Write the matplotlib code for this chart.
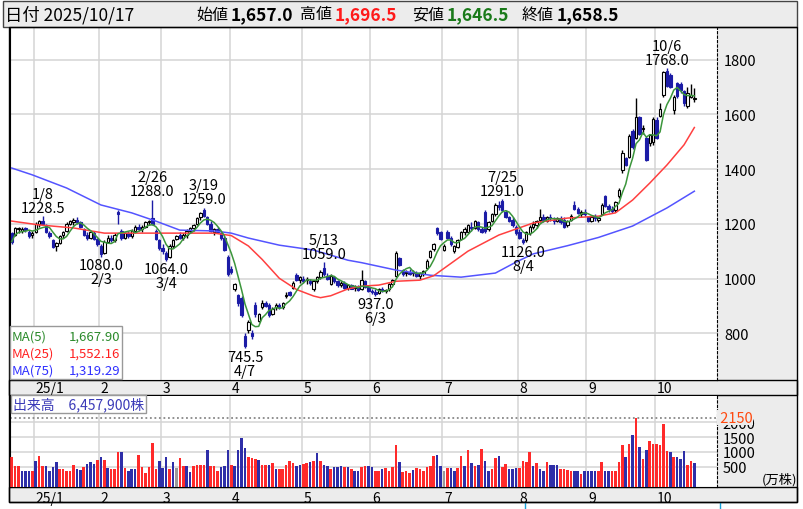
import numpy as np
import pandas as pd
import matplotlib
matplotlib.use("Agg")
import matplotlib.pyplot as plt
from matplotlib.patches import Rectangle
from matplotlib.lines import Line2D

plt.rcParams['font.family'] = ['Noto Sans CJK JP', 'DejaVu Sans']

# --- data -------------------------------------------------------------
holidays = ['2024-12-31', '2025-01-01', '2025-01-02', '2025-01-03', '2025-01-13',
            '2025-02-11', '2025-02-24', '2025-03-20', '2025-04-29', '2025-05-05',
            '2025-05-06', '2025-07-21', '2025-08-11', '2025-09-15', '2025-09-23',
            '2025-10-13']

opens = [1165, 1160, 1180, 1172, 1185, 1170, 1160, 1170, 1200, 1212,
         1195, 1168, 1140, 1118, 1130, 1158, 1175, 1200, 1205, 1215,
         1205, 1180, 1160, 1150, 1168, 1145, 1120, 1095, 1135, 1150,
         1140, 1245, 1175, 1150, 1165, 1155, 1175, 1190, 1180, 1190,
         1205, 1220, 1175, 1140, 1110, 1095, 1080, 1120, 1145, 1160,
         1150, 1160, 1175, 1185, 1200, 1225, 1250, 1225, 1200, 1170,
         1180, 1165, 1150, 1080, 1035, 960, 940, 930, 790, 810,
         800, 905, 845, 895, 910, 905, 870, 895, 905, 895,
         935, 950, 965, 1012, 995, 1000, 995, 990, 960, 990,
         1005, 1040, 1010, 980, 1005, 990, 975, 985, 965, 975,
         965, 970, 960, 990, 968, 955, 950, 948, 960, 955,
         960, 980, 1010, 1075, 1030, 1020, 1025, 1020, 1022, 1010,
         1015, 1040, 1080, 1108, 1185, 1170, 1105, 1170, 1150, 1100,
         1115, 1145, 1170, 1170, 1190, 1185, 1205, 1180, 1245, 1180,
         1210, 1235, 1270, 1285, 1245, 1225, 1215, 1190, 1170, 1140,
         1140, 1165, 1190, 1195, 1215, 1225, 1210, 1225, 1215, 1210,
         1220, 1215, 1195, 1215, 1270, 1255, 1235, 1245, 1225, 1210,
         1225, 1215, 1235, 1300, 1265, 1255, 1250, 1300, 1395, 1440,
         1445, 1540, 1515, 1590, 1545, 1515, 1495, 1500, 1580, 1595,
         1670, 1760, 1745, 1615, 1715, 1712, 1685, 1630, 1665, 1657]
highs = [1170, 1190, 1190, 1188, 1190, 1178, 1172, 1205, 1215, 1228.5,
         1200, 1175, 1145, 1135, 1160, 1175, 1205, 1215, 1220, 1225,
         1210, 1185, 1170, 1175, 1172, 1150, 1125, 1140, 1160, 1160,
         1165, 1250, 1180, 1170, 1175, 1180, 1195, 1200, 1195, 1210,
         1215, 1288, 1180, 1145, 1125, 1100, 1125, 1145, 1160, 1170,
         1165, 1180, 1190, 1200, 1225, 1245, 1259, 1230, 1210, 1185,
         1190, 1170, 1155, 1085, 1045, 985, 945, 935, 800, 850,
         810, 915, 875, 920, 918, 910, 895, 910, 912, 915,
         950, 955, 990, 1020, 1010, 1010, 1005, 1000, 995, 1010,
         1030, 1059, 1020, 1015, 1010, 995, 990, 990, 980, 980,
         975, 978, 1030, 995, 975, 960, 960, 965, 968, 962,
         985, 1000, 1100, 1080, 1035, 1030, 1035, 1030, 1028, 1025,
         1030, 1070, 1105, 1130, 1190, 1175, 1125, 1178, 1155, 1122,
         1145, 1175, 1190, 1200, 1205, 1215, 1212, 1190, 1250, 1210,
         1240, 1275, 1285, 1291, 1250, 1230, 1225, 1195, 1180, 1150,
         1175, 1195, 1210, 1215, 1255, 1235, 1230, 1235, 1225, 1225,
         1228, 1225, 1215, 1235, 1285, 1262, 1250, 1255, 1230, 1230,
         1235, 1225, 1275, 1305, 1272, 1265, 1285, 1330, 1470, 1445,
         1530, 1545, 1660, 1595, 1560, 1520, 1530, 1590, 1590, 1640,
         1760, 1768, 1750, 1670, 1720, 1718, 1690, 1700, 1712, 1696.5]
lows = [1128, 1155, 1165, 1165, 1170, 1150, 1150, 1165, 1190, 1195,
        1165, 1150, 1110, 1100, 1125, 1150, 1170, 1195, 1195, 1200,
        1185, 1155, 1140, 1145, 1140, 1120, 1080, 1090, 1130, 1135,
        1135, 1200, 1140, 1145, 1150, 1150, 1170, 1175, 1170, 1185,
        1195, 1195, 1140, 1105, 1090, 1064, 1075, 1110, 1140, 1145,
        1140, 1150, 1165, 1175, 1195, 1215, 1225, 1195, 1170, 1160,
        1165, 1140, 1100, 1010, 1015, 955, 900, 860, 745.5, 800,
        780, 860, 840, 890, 895, 860, 865, 885, 890, 890,
        930, 935, 960, 990, 985, 985, 980, 975, 955, 985,
        1000, 1010, 995, 975, 985, 970, 970, 960, 958, 960,
        955, 955, 958, 965, 950, 945, 937, 945, 950, 948,
        955, 975, 1005, 1045, 1010, 1010, 1012, 1010, 1005, 1000,
        1010, 1035, 1075, 1100, 1160, 1140, 1100, 1145, 1120, 1095,
        1110, 1140, 1160, 1165, 1175, 1180, 1175, 1165, 1165, 1175,
        1205, 1230, 1250, 1245, 1220, 1205, 1190, 1160, 1145, 1126,
        1135, 1160, 1180, 1185, 1205, 1205, 1205, 1210, 1200, 1205,
        1200, 1185, 1190, 1210, 1250, 1235, 1225, 1230, 1205, 1205,
        1212, 1205, 1232, 1260, 1245, 1240, 1245, 1295, 1385, 1410,
        1440, 1475, 1510, 1525, 1530, 1430, 1485, 1490, 1510, 1590,
        1665, 1700, 1695, 1600, 1660, 1680, 1630, 1625, 1660, 1646.5]
closes = [1135, 1185, 1185, 1182, 1178, 1155, 1168, 1200, 1210, 1198,
          1170, 1155, 1115, 1130, 1155, 1170, 1200, 1210, 1215, 1205,
          1190, 1160, 1150, 1170, 1145, 1125, 1090, 1135, 1150, 1140,
          1160, 1235, 1150, 1165, 1155, 1175, 1190, 1180, 1190, 1205,
          1210, 1200, 1145, 1110, 1100, 1070, 1120, 1140, 1155, 1150,
          1160, 1175, 1185, 1195, 1220, 1240, 1230, 1200, 1175, 1180,
          1170, 1150, 1105, 1015, 1025, 980, 910, 865, 755, 840,
          790, 870, 870, 912, 900, 865, 890, 905, 895, 910,
          940, 940, 985, 995, 1005, 990, 1000, 985, 990, 1005,
          1025, 1015, 1000, 1010, 990, 975, 985, 965, 975, 962,
          970, 958, 995, 970, 955, 950, 945, 960, 955, 958,
          980, 995, 1095, 1050, 1015, 1025, 1018, 1025, 1010, 1020,
          1028, 1065, 1100, 1125, 1165, 1145, 1120, 1150, 1125, 1118,
          1140, 1170, 1180, 1195, 1185, 1210, 1180, 1170, 1175, 1205,
          1235, 1270, 1260, 1250, 1225, 1210, 1195, 1165, 1150, 1135,
          1170, 1190, 1200, 1210, 1225, 1215, 1225, 1220, 1210, 1220,
          1205, 1190, 1210, 1230, 1255, 1240, 1245, 1235, 1210, 1225,
          1220, 1220, 1270, 1265, 1255, 1248, 1280, 1325, 1460, 1415,
          1520, 1480, 1590, 1530, 1550, 1435, 1525, 1585, 1515, 1620,
          1755, 1705, 1700, 1665, 1668, 1690, 1640, 1680, 1671, 1658.5]

# volume in 10k shares, and the day's direction (1 up / -1 down / 0 flat)
volume = [820, 540, 540, 380, 380, 380, 350, 710, 880, 540,
          540, 380, 490, 655, 430, 430, 380, 380, 560, 430,
          400, 490, 600, 655, 600, 740, 820, 740, 450, 430,
          430, 990, 990, 450, 380, 430, 430, 910, 510, 290,
          490, 1290, 430, 710, 450, 820, 430, 680, 450, 790,
          540, 520, 320, 520, 560, 560, 560, 1080, 540, 520,
          380, 510, 540, 1080, 560, 540, 1080, 1460, 1120, 840,
          790, 770, 740, 560, 560, 560, 620, 430, 430, 430,
          560, 710, 620, 540, 560, 600, 620, 680, 710, 955,
          710, 560, 520, 430, 490, 490, 520, 490, 490, 430,
          350, 350, 490, 520, 520, 490, 380, 350, 430, 450,
          380, 510, 1245, 655, 320, 380, 300, 410, 460, 430,
          380, 510, 540, 880, 910, 540, 350, 450, 450, 350,
          450, 880, 540, 1050, 630, 540, 580, 1110, 690, 380,
          430, 800, 880, 510, 600, 430, 430, 460, 460, 690,
          650, 1000, 520, 630, 430, 350, 670, 560, 560, 560,
          430, 430, 410, 380, 350, 350, 280, 380, 380, 380,
          350, 350, 670, 380, 380, 380, 380, 670, 1240, 820,
          1280, 1560, 2150, 1170, 760, 1080, 1380, 1270, 1270, 1230,
          1920, 1040, 990, 820, 820, 760, 1040, 560, 710, 645.79]
vol_dir = [1, 1, 1, -1, -1, -1, 1, -1, 1, 1,
           -1, -1, -1, -1, 1, 1, 1, 1, 1, -1,
           -1, 1, -1, -1, -1, 1, -1, 1, -1, 1,
           1, 1, -1, 1, -1, -1, -1, 1, 1, 1,
           1, 1, 1, -1, -1, -1, 1, -1, 0, 1,
           1, -1, -1, 1, 1, 1, 1, -1, 1, 1,
           1, -1, -1, -1, 1, -1, -1, -1, -1, 1,
           1, 1, -1, 1, 1, -1, 1, -1, 1, 1,
           1, 1, 1, -1, -1, 1, 1, -1, 1, -1,
           1, -1, -1, 1, -1, -1, -1, 1, -1, 1,
           -1, -1, 1, 1, -1, -1, 1, 1, -1, 1,
           1, 1, 1, -1, 1, 1, 1, -1, 1, 1,
           1, 1, 1, 1, -1, -1, 0, 1, -1, -1,
           1, 1, -1, 1, -1, 1, -1, 1, -1, -1,
           1, 1, -1, 1, 1, -1, -1, -1, 1, 1,
           1, 1, -1, 1, -1, -1, 1, -1, -1, -1,
           1, 1, 1, 1, -1, -1, 1, -1, -1, -1,
           -1, 1, 1, -1, -1, 1, 1, 1, 1, -1,
           1, -1, 1, -1, 1, -1, 1, 1, 1, 1,
           1, 1, -1, 1, -1, -1, -1, 1, 1, -1]

# moving averages (trading-day index, value)
ma25_idx = [0, 8, 18, 27, 37, 47, 59, 64, 69, 73, 78, 83, 88, 90, 93, 98,
            102, 107, 112, 119, 123, 133, 142, 152, 162, 171, 176, 181, 186,
            191, 196, 199]
ma25_val = [1210, 1196, 1185, 1166, 1166, 1166, 1166, 1157, 1119, 1070, 1001,
            960, 936, 930, 937, 962, 972, 976, 990, 994, 1010, 1100, 1159,
            1203, 1221, 1228, 1240, 1287, 1349, 1415, 1489, 1552.16]
ma75_idx = [0, 6, 16, 26, 35, 42, 49, 59, 64, 69, 78, 88, 98, 102, 112, 122,
            131, 141, 147, 152, 162, 171, 181, 191, 199]
ma75_val = [1404, 1379, 1331, 1269, 1240, 1210, 1177, 1174, 1166, 1148, 1122,
            1104, 1067, 1058, 1031, 1012, 1005, 1020, 1060, 1090, 1120, 1150,
            1192, 1258, 1319.29]

peak_dates = ['2025-01-08', '2025-02-26', '2025-03-19', '2025-05-13',
              '2025-07-25', '2025-10-06']
trough_dates = ['2025-02-03', '2025-03-04', '2025-04-07', '2025-06-03',
                '2025-08-04']

# --- prep -------------------------------------------------------------
dates = pd.bdate_range('2024-12-20', '2025-10-17')
dates = dates[~dates.isin(pd.to_datetime(holidays))]
n = len(dates)
x = np.arange(n)
o = np.array(opens, float)
h = np.array(highs, float)
l = np.array(lows, float)
c = np.array(closes, float)
ma5 = pd.Series(c).rolling(5, min_periods=1).mean().values

month_first = [i for i in range(1, n) if dates[i].month != dates[i - 1].month]
month_lbl = ['25/1' if dates[i].month == 1 else str(dates[i].month) for i in month_first]
grid_x = [i - 0.5 for i in month_first]

W, H = 804, 510
def fx(px):
    return px / W
def fy(py):
    return 1 - py / H

fig = plt.figure(figsize=(W / 100, H / 100), dpi=100)
GRAY = '#ececec'
GRID = '#d4d4d4'
DOWN = '#1c1ca6'

# background panels (below the axes so axis texts stay visible)
fig.add_artist(Rectangle((fx(717), fy(381)), fx(797) - fx(717), (381 - 29) / H,
                         transform=fig.transFigure, facecolor=GRAY, edgecolor='none', zorder=-2))
fig.add_artist(Rectangle((fx(717), fy(488)), fx(797) - fx(717), (488 - 397) / H,
                         transform=fig.transFigure, facecolor=GRAY, edgecolor='none', zorder=-2))
for top, bot in [(381, 396), (488, 503)]:
    fig.add_artist(Rectangle((fx(9), fy(bot)), fx(797) - fx(9), (bot - top) / H,
                             transform=fig.transFigure, facecolor=GRAY, edgecolor='black',
                             lw=1, zorder=-1))
# header
fig.add_artist(Rectangle((fx(3), fy(28)), fx(797) - fx(3), 26 / H, transform=fig.transFigure,
                         facecolor=GRAY, edgecolor='#444444', lw=1, zorder=3))
fig.add_artist(Rectangle((fx(9), fy(503)), fx(797) - fx(9), (503 - 28) / H,
                         transform=fig.transFigure, facecolor='none', edgecolor='black',
                         lw=1, zorder=4))
for cx in [525, 720]:
    fig.add_artist(Line2D([fx(cx), fx(cx)], [fy(504), fy(510)], transform=fig.transFigure,
                          color='#1aa0d8', lw=1))

hy = fy(15)
fig.text(fx(5), hy, '日付 2025/10/17', fontsize=12.5, va='center', zorder=5)
head = [(196, '始値', '1,657.0', 'black'), (300, '高値', '1,696.5', '#ff1a1a'),
        (412, '安値', '1,646.5', '#1a7a1a'), (522, '終値', '1,658.5', 'black')]
for px, k, v, col in head:
    fig.text(fx(px), hy, k, fontsize=11.5, va='center', zorder=5)
    fig.text(fx(px + 35), hy, v, fontsize=12.5, va='center', fontweight='bold', color=col, zorder=5)

# --- price panel --------------------------------------------------------
ax = fig.add_axes([fx(10), fy(381), fx(717) - fx(10), (381 - 29) / H])
ax.set_xlim(-0.5, 205.6)
ax.set_ylim(629, 1916)
ax.set_yticks([800, 1000, 1200, 1400, 1600, 1800])
ax.set_xticks(grid_x)
ax.grid(True, color=GRID, lw=1.1)
ax.set_axisbelow(True)
ax.tick_params(axis='x', length=0, labelbottom=False)
ax.tick_params(axis='y', length=0, left=False, labelleft=False, right=False,
               labelright=True, pad=5, labelsize=10.5)
ax.spines['top'].set_visible(False)
ax.spines['right'].set_linestyle((0, (2, 2)))

up = c >= o
for i in range(n):
    col = 'black' if up[i] else DOWN
    ax.vlines(x[i], l[i], h[i], color=col, lw=1.0, zorder=2)
    body = max(abs(c[i] - o[i]), 2.5)
    ax.bar(x[i], body, bottom=min(o[i], c[i]), width=0.7,
           facecolor='white' if up[i] else DOWN, edgecolor=col, lw=0.8, zorder=3)

ax.plot(ma75_idx, ma75_val, color='#5454ff', lw=1.1, zorder=4)
ax.plot(ma25_idx, ma25_val, color='#ff4040', lw=1.1, zorder=4)
ax.plot(x, ma5, color='#3c963c', lw=1.1, zorder=5)

for d in peak_dates:
    i = dates.get_loc(pd.Timestamp(d))
    ax.annotate(f'{dates[i].month}/{dates[i].day}\n{h[i]:.1f}', (x[i], h[i]),
                xytext=(0, 1), textcoords='offset points', ha='center', va='bottom',
                fontsize=10.5, linespacing=1.0, zorder=6)
for d in trough_dates:
    i = dates.get_loc(pd.Timestamp(d))
    ax.annotate(f'{l[i]:.1f}\n{dates[i].month}/{dates[i].day}', (x[i], l[i]),
                xytext=(0, -1), textcoords='offset points', ha='center', va='top',
                fontsize=10.5, linespacing=1.0, zorder=6)

for gx, lb in zip(grid_x, month_lbl):
    ax.text(gx + 0.5, -0.022, lb, transform=ax.get_xaxis_transform(), ha='left',
            va='center', fontsize=10, clip_on=False, zorder=6)

# MA legend box
fig.add_artist(Rectangle((fx(10), fy(380)), fx(122) - fx(10), 53 / H, transform=fig.transFigure,
                         facecolor='white', edgecolor='#999999', lw=1, zorder=6))
leg = [('MA(5)', ma5[-1], '#2a8a2a'), ('MA(25)', ma25_val[-1], '#ff2020'),
       ('MA(75)', ma75_val[-1], '#3030ff')]
for k, (name, val, col) in enumerate(leg):
    yy = fy(337 + 17 * k)
    fig.text(fx(12), yy, name, color=col, fontsize=9.5, va='center', zorder=7)
    fig.text(fx(120), yy, f'{val:,.2f}', color=col, fontsize=9.5, va='center', ha='right', zorder=7)

# --- volume panel -------------------------------------------------------
vax = fig.add_axes([fx(10), fy(488), fx(717) - fx(10), (488 - 397) / H])
vax.set_xlim(-0.5, 205.6)
vax.set_ylim(-167, 2867)
vax.set_yticks([500, 1000, 1500, 2000])
vax.set_xticks(grid_x)
vax.grid(True, color=GRID, lw=1.1)
vax.set_axisbelow(True)
vax.tick_params(axis='x', length=0, labelbottom=False)
vax.tick_params(axis='y', length=0, left=False, labelleft=False, labelright=True,
                pad=4, labelsize=10.5)
vax.spines['top'].set_visible(False)
vax.spines['right'].set_linestyle((0, (2, 2)))
vol = np.array(volume, float)
vcol = ['#ff2a2a' if d > 0 else ('#9a9a9a' if d == 0 else '#2e2ea8') for d in vol_dir]
vax.bar(x, vol + 167, bottom=-167, width=0.75, color=vcol, lw=0, zorder=3)
vmax = vol.max()
vax.axhline(vmax, color='#888888', ls=(0, (1, 1.5)), lw=1.3, zorder=2)
vax.text(1.0, vmax, f' {vmax:.0f}', transform=vax.get_yaxis_transform(), color='#ff4a10',
         fontsize=10.5, va='center', ha='left', clip_on=False,
         bbox=dict(facecolor=GRAY, edgecolor='none', pad=0.1), zorder=6)
fig.text(fx(762), fy(480), '(万株)', fontsize=9.5, va='center', zorder=5)
fig.text(fx(13), fy(405), f'出来高　{vol[-1] * 10000:,.0f}株', color='#3a3ab8', fontsize=10,
         va='center', zorder=7,
         bbox=dict(facecolor='white', edgecolor='#999999', pad=1.5, lw=1))

for gx, lb in zip(grid_x, month_lbl):
    vax.text(gx + 0.5, -0.12, lb, transform=vax.get_xaxis_transform(), ha='left',
             va='center', fontsize=10, clip_on=False, zorder=6)

fig.savefig('out.png', dpi=100)
